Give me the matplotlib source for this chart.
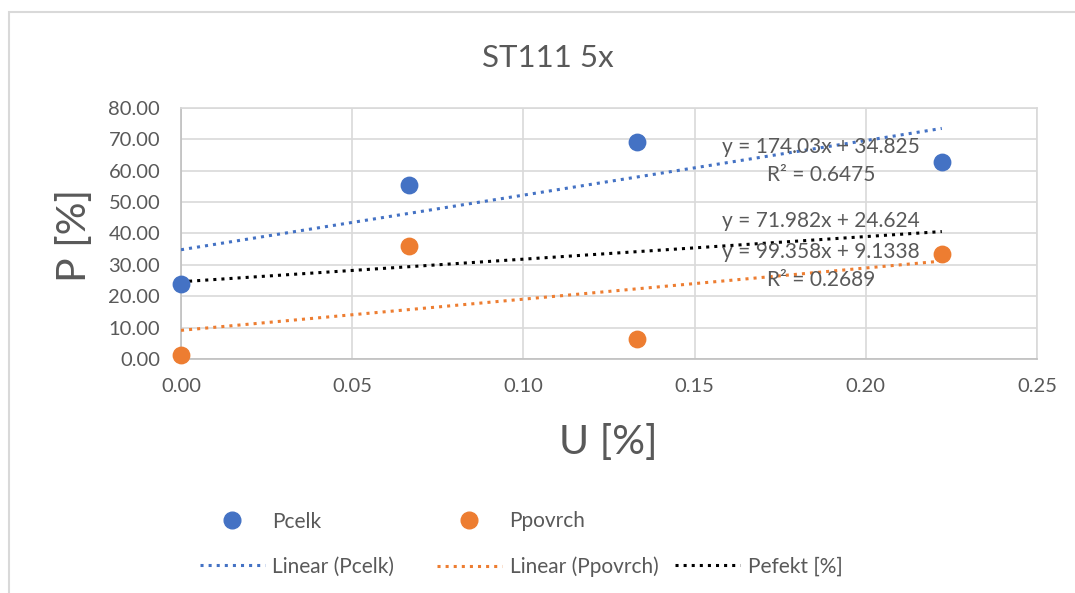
import numpy as np
import matplotlib
matplotlib.use('Agg')
import matplotlib.pyplot as plt
from matplotlib.lines import Line2D
from matplotlib.patches import Rectangle

plt.rcParams['font.family'] = ['Lato', 'DejaVu Sans']

# data
U = [0.0, 0.0667, 0.1333, 0.2222]
P_CELK = [23.8, 55.6, 69.2, 62.8]
P_POVRCH = [1.3, 36.0, 6.4, 33.6]

# trendline coefficients (slope, intercept) as printed on the chart
FIT_CELK = (174.03, 34.825)
FIT_POVRCH = (99.358, 9.1338)
FIT_EFEKT = (71.982, 24.624)

EQ_CELK = ['y = 174.03x + 34.825', 'R² = 0.6475']
EQ_EFEKT = ['y = 71.982x + 24.624']
EQ_POVRCH = ['y = 99.358x + 9.1338', 'R² = 0.2689']

BLUE = '#4472c4'
ORANGE = '#ed7d31'
GREY_TXT = '#595959'
GRID = '#d9d9d9'

fig = plt.figure(figsize=(10.75, 5.93), dpi=100)
ax = fig.add_axes([181 / 1075, 1 - 359 / 593, (1037 - 181) / 1075, (359 - 108) / 593])

# outer chart border (cropped in the screenshot)
fig.patches.append(Rectangle((9 / 1075, -0.1), 1.2, 1 - 12 / 593 + 0.1,
                             transform=fig.transFigure, fill=False,
                             edgecolor='#d9d9d9', lw=1.5, zorder=0))

xs = np.array([U[0], U[-1]])
for (m, b), col in [(FIT_CELK, BLUE), (FIT_POVRCH, ORANGE), (FIT_EFEKT, 'black')]:
    ax.plot(xs, m * xs + b, color=col, ls=':', lw=2.2, zorder=3)

ax.scatter(U, P_CELK, s=140, color=BLUE, zorder=4, clip_on=False)
ax.scatter(U, P_POVRCH, s=140, color=ORANGE, zorder=4, clip_on=False)

ax.set_xlim(0, 0.25)
ax.set_ylim(0, 80)
ax.set_xticks(np.arange(0, 0.251, 0.05))
ax.set_yticks(np.arange(0, 81, 10))
ax.xaxis.set_major_formatter(matplotlib.ticker.FormatStrFormatter('%.2f'))
ax.yaxis.set_major_formatter(matplotlib.ticker.FormatStrFormatter('%.2f'))
ax.tick_params(length=0, labelsize=14.5, colors=GREY_TXT)
ax.tick_params(axis='y', pad=15)
ax.tick_params(axis='x', pad=14)
ax.grid(color=GRID, lw=1.2, zorder=0)
ax.set_axisbelow(True)
for sp in ax.spines.values():
    sp.set_color(GRID)
    sp.set_linewidth(1.2)
ax.spines['left'].set_color('#bfbfbf')
ax.spines['bottom'].set_color('#bfbfbf')

# trendline labels
for lines, y0 in [(EQ_CELK, 147), (EQ_EFEKT, 221), (EQ_POVRCH, 252)]:
    for i, t in enumerate(lines):
        fig.text(821 / 1075, 1 - (y0 + i * 28) / 593, t, ha='center', va='center',
                 fontsize=15, color=GREY_TXT, zorder=5)

fig.text(548 / 1075, 1 - 58 / 593, 'ST111 5x', ha='center', va='center',
         fontsize=22.5, color=GREY_TXT)
fig.text(608 / 1075, 1 - 442 / 593, 'U [%]', ha='center', va='center',
         fontsize=29.5, color=GREY_TXT)
fig.text(75 / 1075, 1 - 235 / 593, 'P [%]', ha='center', va='center',
         fontsize=29.5, color=GREY_TXT, rotation=90)

# legend: three columns placed individually, like Excel's even column grid
marker_kw = dict(ls='none', marker='o', ms=12)
line_kw = dict(ls=':', lw=2.2)
columns = [
    (200, [Line2D([], [], color=BLUE, **marker_kw), Line2D([], [], color=BLUE, **line_kw)],
     ['Pcelk', 'Linear (Pcelk)']),
    (437, [Line2D([], [], color=ORANGE, **marker_kw), Line2D([], [], color=ORANGE, **line_kw)],
     ['Ppovrch', 'Linear (Ppovrch)']),
    (675, [Line2D([], [], ls='none'), Line2D([], [], color='black', **line_kw)],
     ['', 'Pefekt [%]']),
]
for x0, hs, ls in columns:
    leg = fig.legend(hs, ls, loc='center left',
                     bbox_to_anchor=(x0 / 1075, 1 - 544 / 593), frameon=False,
                     fontsize=15, handlelength=3.1, handletextpad=0.38,
                     labelspacing=1.2, borderaxespad=0, borderpad=0)
    for t in leg.get_texts():
        t.set_color(GREY_TXT)

fig.savefig('out.png', dpi=100)
